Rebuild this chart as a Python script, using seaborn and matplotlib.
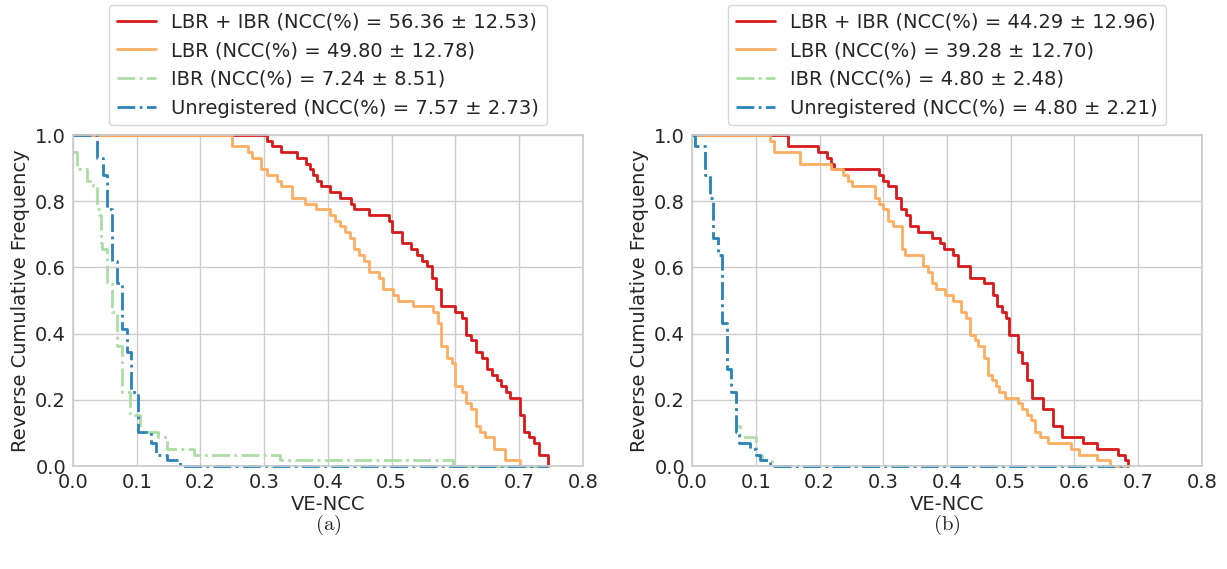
import numpy as np
import pandas as pd
import seaborn as sns
import matplotlib.pyplot as plt

# ------------------- Data: per-case VE-NCC scores (value, how many cases) -------------------
# panel (a)
a_lbr_ibr_vals = [0.305, 0.312, 0.327, 0.351, 0.3655, 0.372, 0.377, 0.382, 0.389, 0.403,
                  0.419, 0.436, 0.441, 0.464, 0.495, 0.501, 0.516, 0.531, 0.540, 0.547,
                  0.556, 0.563, 0.570, 0.578, 0.599, 0.610, 0.617, 0.625, 0.633, 0.641,
                  0.649, 0.657, 0.665, 0.671, 0.679, 0.686, 0.701, 0.708, 0.715, 0.723,
                  0.731, 0.745]
a_lbr_ibr_counts = [1, 1, 1, 1, 1, 1, 1, 1, 1, 1,
                    1, 1, 1, 1, 1, 2, 2, 1, 1, 1,
                    1, 2, 2, 3, 1, 1, 3, 1, 2, 1,
                    2, 1, 1, 1, 1, 1, 3, 3, 1, 1,
                    2, 2]

a_lbr_vals = [0.250, 0.275, 0.281, 0.295, 0.304, 0.320, 0.326, 0.343, 0.364, 0.381,
              0.403, 0.411, 0.419, 0.427, 0.435, 0.441, 0.449, 0.457, 0.464, 0.480,
              0.487, 0.5025, 0.510, 0.534, 0.564, 0.572, 0.578, 0.586, 0.594, 0.600,
              0.6095, 0.617, 0.625, 0.632, 0.639, 0.647, 0.661, 0.677, 0.702]
a_lbr_counts = [2, 1, 1, 2, 1, 1, 1, 2, 1, 1,
                1, 1, 1, 1, 1, 2, 1, 1, 2, 1,
                2, 1, 1, 1, 1, 2, 4, 2, 1, 4,
                1, 2, 1, 3, 1, 1, 2, 2, 1]

a_ibr_vals = [-0.02, -0.01, -0.003, 0.0068, 0.0214, 0.032, 0.037, 0.0403, 0.044, 0.045,
              0.053, 0.0607, 0.0685, 0.0763, 0.089, 0.105, 0.134, 0.147, 0.19, 0.325,
              0.5955]
a_ibr_counts = [1, 1, 1, 3, 2, 1, 4, 1, 5, 1,
                6, 5, 6, 8, 4, 3, 1, 2, 1, 1,
                1]

a_unreg_vals = [0.038, 0.0465, 0.054, 0.0607, 0.0695, 0.0774, 0.0842, 0.091, 0.1025, 0.1224,
                0.130, 0.147, 0.168]
a_unreg_counts = [4, 3, 6, 9, 4, 8, 4, 7, 7, 2, 2, 1, 1]

# panel (b)
b_lbr_ibr_vals = [0.150, 0.198, 0.211, 0.218, 0.2235, 0.293, 0.300, 0.307, 0.320, 0.328,
                  0.336, 0.342, 0.355, 0.376, 0.389, 0.3955, 0.410, 0.417, 0.436, 0.4585,
                  0.4716, 0.478, 0.486, 0.492, 0.497, 0.511, 0.518, 0.525, 0.533, 0.551,
                  0.567, 0.580, 0.614, 0.635, 0.669, 0.679, 0.684]
b_lbr_ibr_counts = [2, 1, 1, 1, 1, 1, 1, 1, 2, 2,
                    1, 2, 1, 1, 1, 1, 1, 2, 2, 1,
                    2, 2, 1, 1, 3, 3, 2, 3, 3, 2,
                    3, 2, 1, 1, 1, 1, 1]

b_lbr_vals = [0.1224, 0.1286, 0.170, 0.218, 0.2366, 0.244, 0.2506, 0.287, 0.294, 0.300,
              0.307, 0.315, 0.329, 0.334, 0.363, 0.370, 0.376, 0.382, 0.397, 0.410,
              0.422, 0.430, 0.436, 0.444, 0.449, 0.4585, 0.464, 0.470, 0.477, 0.482,
              0.491, 0.511, 0.518, 0.525, 0.532, 0.538, 0.546, 0.559, 0.595, 0.607,
              0.635, 0.656]
b_lbr_counts = [1, 2, 2, 1, 1, 1, 1, 2, 1, 1,
                2, 1, 4, 1, 2, 1, 2, 1, 1, 1,
                2, 1, 3, 1, 1, 2, 3, 1, 1, 1,
                1, 1, 1, 1, 1, 2, 1, 1, 1, 1,
                1, 1]

b_ibr_vals = [0.005, 0.020, 0.0277, 0.033, 0.0408, 0.0476, 0.0554, 0.0617, 0.0685, 0.0745,
              0.1005, 0.110, 0.125]
b_ibr_counts = [2, 5, 4, 7, 3, 12, 8, 4, 6, 2, 3, 1, 1]

b_unreg_vals = [0.005, 0.020, 0.0277, 0.033, 0.0408, 0.0476, 0.0554, 0.0617, 0.0685, 0.0732,
                0.0905, 0.100, 0.106, 0.122]
b_unreg_counts = [2, 5, 4, 7, 3, 12, 8, 4, 7, 2, 1, 1, 1, 1]

methods = ['LBR + IBR', 'LBR', 'IBR', 'Unregistered']
a_stats = ['56.36 ± 12.53', '49.80 ± 12.78', '7.24 ± 8.51', '7.57 ± 2.73']
b_stats = ['44.29 ± 12.96', '39.28 ± 12.70', '4.80 ± 2.48', '4.80 ± 2.21']

colors = ['#d7191c', '#fdae61', '#abdda4', '#2b83ba']
styles = ['-', '-', '-.', '-.']

panel_a = {'LBR + IBR': (a_lbr_ibr_vals, a_lbr_ibr_counts), 'LBR': (a_lbr_vals, a_lbr_counts),
           'IBR': (a_ibr_vals, a_ibr_counts), 'Unregistered': (a_unreg_vals, a_unreg_counts)}
panel_b = {'LBR + IBR': (b_lbr_ibr_vals, b_lbr_ibr_counts), 'LBR': (b_lbr_vals, b_lbr_counts),
           'IBR': (b_ibr_vals, b_ibr_counts), 'Unregistered': (b_unreg_vals, b_unreg_counts)}


# ------------------- Reverse cumulative frequency on a shared grid -------------------
def reverse_cdf(panel):
    samples = {m: np.repeat(v, c) for m, (v, c) in panel.items()}
    allv = np.concatenate(list(samples.values()))
    grid = np.unique(np.concatenate([[0.0], allv[allv > 0]]))
    rows = []
    for m, s in samples.items():
        y = (s[:, None] > grid[None, :]).mean(axis=0)
        rows.append(pd.DataFrame({'VE-NCC': grid, 'freq': y, 'method': m}))
    return pd.concat(rows, ignore_index=True)


sns.set_theme(style='whitegrid')
plt.rcParams['font.family'] = ['DejaVu Sans']
plt.rcParams['mathtext.fontset'] = 'cm'

fig = plt.figure(figsize=(12.27, 5.69), dpi=100)
ax_a = fig.add_axes([0.0595, 0.1810, 0.4156, 0.5817])
ax_b = fig.add_axes([0.5640, 0.1810, 0.4156, 0.5817])

for ax, panel, stats, tag in [(ax_a, panel_a, a_stats, '(a)'), (ax_b, panel_b, b_stats, '(b)')]:
    df = reverse_cdf(panel)
    for m, st, col, ls in zip(methods, stats, colors, styles):
        sns.lineplot(data=df[df['method'] == m], x='VE-NCC', y='freq', ax=ax,
                     estimator=None, sort=False, drawstyle='steps-post',
                     color=col, linestyle=ls, linewidth=2, clip_on=False,
                     label=f'{m} (NCC(%) = {st})')
    ax.set_xlim(0, 0.8)
    ax.set_ylim(0, 1.0)
    ax.set_xticks(np.arange(0, 0.81, 0.1))
    ax.set_yticks(np.arange(0, 1.01, 0.2))
    ax.tick_params(labelsize=14, length=0, pad=5)
    ax.set_xlabel('VE-NCC', fontsize=14, labelpad=2)
    ax.set_ylabel('Reverse Cumulative Frequency', fontsize=14, labelpad=4)
    ax.legend(loc='lower center', bbox_to_anchor=(0.5, 1.0), fontsize=14,
              borderaxespad=0.5, frameon=True)
    pos = ax.get_position()
    fig.text(pos.x0 + pos.width / 2, 0.078, r'$\mathrm{' + tag + '}$',
             ha='center', va='center', fontsize=15)

fig.savefig('out.png', dpi=100)
